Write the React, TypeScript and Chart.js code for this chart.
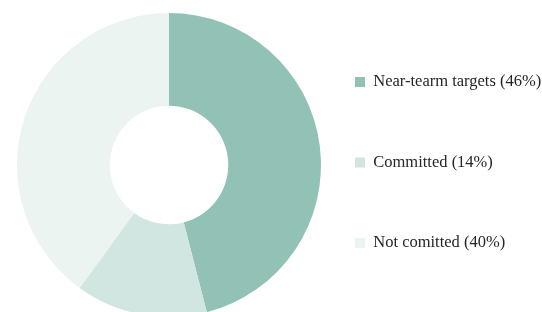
import React, { useEffect, useRef } from "react";
import { Chart, registerables } from "chart.js";

Chart.register(...registerables);

const categories = ["Near-tearm targets (46%)", "Committed (14%)", "Not comitted (40%)"];
const values = [46, 14, 40];
const colors = ["#92C1B5", "#D1E6E0", "#EBF4F1"];

export default function App() {
  const ref = useRef<HTMLCanvasElement | null>(null);
  useEffect(() => {
    if (!ref.current) return;
    const chart = new Chart(ref.current, {
      type: "doughnut",
      data: {
        labels: categories,
        datasets: [
          {
            data: values,
            backgroundColor: colors,
            borderWidth: 0,
            radius: 152,
            cutout: "39%",
          },
        ],
      },
      options: {
        animation: false,
        responsive: false,
        maintainAspectRatio: false,
        layout: { padding: { left: 47, top: 9.75, bottom: 19.75, right: 0 } },
        plugins: {
          tooltip: { enabled: false },
          legend: {
            position: "right",
            align: "start",
            maxWidth: 251,
            labels: {
              boxWidth: 10,
              boxHeight: 10,
              padding: 64,
              color: "#262626",
              font: { family: "'Liberation Serif', serif", size: 16.5 },
            },
          },
        },
      },
    });
    return () => chart.destroy();
  }, []);
  return (
    <div style={{ position: "absolute", left: 0, top: 0, width: 542, height: 312, overflow: "hidden", background: "#fff" }}>
      <canvas ref={ref} width={542} height={340} style={{ display: "block" }} />
    </div>
  );
}
